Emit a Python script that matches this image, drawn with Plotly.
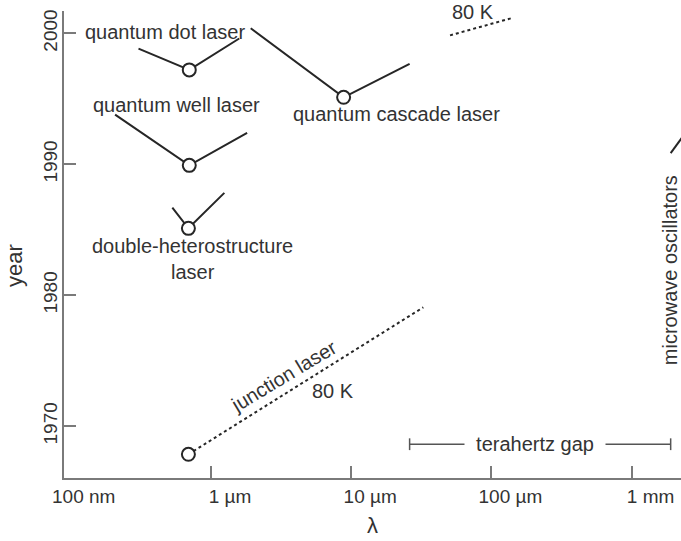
import math
import plotly.graph_objects as go

# Semiconductor laser milestones: wavelength (m) vs. year
qd_wl = [0.304e-6, 0.70e-6, 1.59e-6]          # quantum dot laser
qd_year = [1998.84, 1997.21, 1999.61]
qw_wl = [0.207e-6, 0.70e-6, 1.81e-6]          # quantum well laser
qw_year = [1993.80, 1989.92, 1992.40]
dh_wl = [0.53e-6, 0.69e-6, 1.245e-6]          # double-heterostructure laser
dh_year = [1986.69, 1985.11, 1987.82]
qcl_wl = [1.92e-6, 8.83e-6, 26.1e-6]          # quantum cascade laser
qcl_year = [2000.39, 1995.12, 1997.67]
junction_wl = [0.69e-6, 32.7e-6]              # junction laser (80 K)
junction_year = [1967.85, 1979.08]
qcl80_wl = [50.7e-6, 139e-6]                  # QCL reaching 80 K
qcl80_year = [1999.85, 2001.16]
mw_wl = [1.9e-3, 2.6e-3]                      # microwave oscillators
mw_year = [1990.85, 1992.85]
thz_wl = [26.1e-6, 1.9e-3]                    # terahertz gap span
thz_year = 1968.62

# first demonstrations (circle markers)
first_wl = [qd_wl[1], qw_wl[1], dh_wl[1], qcl_wl[1], junction_wl[0]]
first_year = [qd_year[1], qw_year[1], dh_year[1], qcl_year[1], junction_year[0]]

tick_vals = [1e-6, 1e-5, 1e-4, 1e-3]
tick_text = ["1 µm", "10 µm", "100 µm", "1 mm"]
year_ticks = [1970, 1980, 1990, 2000]

INK = "#262626"
TXT = "#333333"
AXIS = "#7a7a7a"
FONT = "Liberation Sans, Arial, sans-serif"

fig = go.Figure()

solid = dict(color=INK, width=2)
for xs, ys in [(qd_wl, qd_year), (qw_wl, qw_year), (dh_wl, dh_year),
               (qcl_wl, qcl_year), (mw_wl, mw_year)]:
    fig.add_trace(go.Scatter(x=xs, y=ys, mode="lines", line=solid,
                             hoverinfo="skip", showlegend=False))

dotted = dict(color=INK, width=2, dash="dot")
for xs, ys in [(junction_wl, junction_year), (qcl80_wl, qcl80_year)]:
    fig.add_trace(go.Scatter(x=xs, y=ys, mode="lines", line=dotted,
                             hoverinfo="skip", showlegend=False))

# terahertz gap bracket with end caps
thin = dict(color="#555555", width=1.5)
fig.add_trace(go.Scatter(x=thz_wl, y=[thz_year, thz_year], mode="lines",
                         line=thin, hoverinfo="skip", showlegend=False))
for w in thz_wl:
    fig.add_trace(go.Scatter(x=[w, w], y=[thz_year - 0.45, thz_year + 0.45],
                             mode="lines", line=thin, hoverinfo="skip",
                             showlegend=False))

fig.add_trace(go.Scatter(
    x=first_wl, y=first_year, mode="markers",
    marker=dict(symbol="circle", size=13, color="white",
                line=dict(color=INK, width=2)),
    hoverinfo="skip", showlegend=False))

# text labels placed in data coordinates (wavelength in m, year)
labels = [
    ("quantum dot laser", 0.470e-6, 2000.08, 0),
    ("quantum well laser", 0.572e-6, 1994.50, 0),
    ("double-heterostructure<br>laser", 0.74e-6, 1982.75, 0),
    ("quantum cascade laser", 21.2e-6, 1993.88, 0),
    ("80 K", 74e-6, 2001.63, 0),
    ("junction laser", 3.3e-6, 1973.85, -31),
    ("80 K", 7.41e-6, 1972.69, 0),
]
annotations = []
for text, x, y, ang in labels:
    annotations.append(dict(text=text, x=math.log10(x), y=y, xref="x", yref="y",
                            xanchor="center", yanchor="middle", align="center",
                            textangle=ang, showarrow=False,
                            font=dict(size=20, color=TXT, family=FONT)))

annotations.append(dict(text="\u00a0\u00a0terahertz gap\u00a0\u00a0",
                        x=math.log10(205e-6), y=thz_year, xref="x", yref="y",
                        xanchor="center", yanchor="middle", showarrow=False,
                        bgcolor="white", borderpad=0,
                        font=dict(size=20, color=TXT, family=FONT)))
annotations.append(dict(text="microwave oscillators", x=1, y=0.445,
                        xref="paper", yref="paper", xanchor="right",
                        yanchor="middle", textangle=-90, showarrow=False,
                        xshift=2,
                        font=dict(size=20, color=TXT, family=FONT)))
annotations.append(dict(text="100 nm", x=0, y=0, xref="paper", yref="paper",
                        xanchor="left", yanchor="middle", xshift=-14,
                        yshift=-18, showarrow=False,
                        font=dict(size=19, color=TXT, family=FONT)))
annotations.append(dict(text="year", x=0, y=0.454, xref="paper", yref="paper",
                        xanchor="center", yanchor="middle", xshift=-49,
                        textangle=-90, showarrow=False,
                        font=dict(size=22, color=TXT, family=FONT)))

fig.update_layout(
    width=681, height=541,
    margin=dict(l=64, r=0, t=11, b=63),
    paper_bgcolor="white", plot_bgcolor="white",
    font=dict(family=FONT, color=TXT, size=19),
    annotations=annotations,
    xaxis=dict(type="log", range=[-7.0485, -2.6476],
               tickvals=tick_vals, ticktext=tick_text,
               ticks="inside", ticklen=12, tickwidth=1.5, tickcolor=AXIS,
               showline=True, linecolor=AXIS, linewidth=2,
               showgrid=False, zeroline=False, ticklabelshift=19,
               ticklabelstandoff=0,
               tickfont=dict(size=19, color=TXT),
               title=dict(text="λ", font=dict(size=22, color=TXT),
                          standoff=12)),
    yaxis=dict(range=[1966.04, 2001.71], tickvals=year_ticks,
               ticks="inside", ticklen=12, tickwidth=1.5, tickcolor=AXIS,
               showline=True, linecolor=AXIS, linewidth=2,
               showgrid=False, zeroline=False, tickangle=-90,
               ticklabelstandoff=-3,
               tickfont=dict(size=19, color=TXT)),
)

fig.write_html("out.html")
